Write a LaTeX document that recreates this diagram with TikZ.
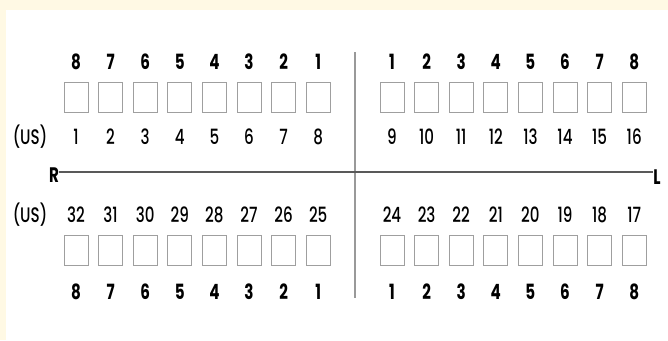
\documentclass[tikz,border=0pt]{standalone}
\usepackage{fontspec}
\newfontfamily\numfont[FakeStretch=0.72,UprightFont={* Medium}]{Poppins}
\newfontfamily\numfontb[FakeStretch=0.72,UprightFont={* Bold}]{Poppins}
\usetikzlibrary{positioning}
\definecolor{cream}{HTML}{FFF9E4}
\tikzset{tooth/.style = {draw=gray!75, line width=.9pt, minimum width=24pt, minimum height=30pt, inner sep=0pt},
  num/.style = {inner sep=0pt, font=\numfont\fontsize{21}{21}\selectfont},
  bnum/.style = {inner sep=0pt, font=\numfontb\fontsize{21}{21}\selectfont}}

\begin{document}
\begin{tikzpicture}[x=1pt, y=-1pt]
      \fill[cream] (0,0) rectangle (668,340);
      \fill[white] (6,10) rectangle (668,340);
      \useasboundingbox (0,0) rectangle (668,340);
      % upper jaw
      \foreach \i in {1,...,8} {
        \node[tooth] (ul\i) at ({76+(\i-1)*34.6},97) {};
        \node[bnum] at (ul\i |- 0,62) {\pgfmathparse{int(9-\i)}\pgfmathresult};
        \node[num] at (ul\i |- 0,137) {\i};
        \node[tooth] (ur\i) at ({392+(\i-1)*34.6},97) {};
        \node[bnum] at (ur\i |- 0,62) {\i};
        \node[num] at (ur\i |- 0,137) {\pgfmathparse{int(8+\i)}\pgfmathresult};
      }
      % lower jaw
      \foreach \i in {1,...,8} {
        \node[tooth] (ll\i) at ({76+(\i-1)*34.6},250.5) {};
        \node[num] at (ll\i |- 0,215) {\pgfmathparse{int(33-\i)}\pgfmathresult};
        \node[bnum] at (ll\i |- 0,292) {\pgfmathparse{int(9-\i)}\pgfmathresult};
        \node[tooth] (lr\i) at ({392+(\i-1)*34.6},250.5) {};
        \node[num] at (lr\i |- 0,215) {\pgfmathparse{int(25-\i)}\pgfmathresult};
        \node[bnum] at (lr\i |- 0,292) {\i};
      }
      \node[num] (us1) at (30,137) {(US)};
      \node[num] (us2) at (30,215) {(US)};
      \node[bnum] (r) at (54,175) {R};
      \node[bnum] (l) at (657,177) {L};
      \coordinate (top) at (355,52);
      \coordinate (bot) at (355,298);
      \draw[gray!80, line width=1.1pt] (top) -- (bot);
      \draw[black!65, line width=1.6pt] (r.east |- 0,172) -- (l.west |- 0,172);
    \end{tikzpicture}
\end{document}
